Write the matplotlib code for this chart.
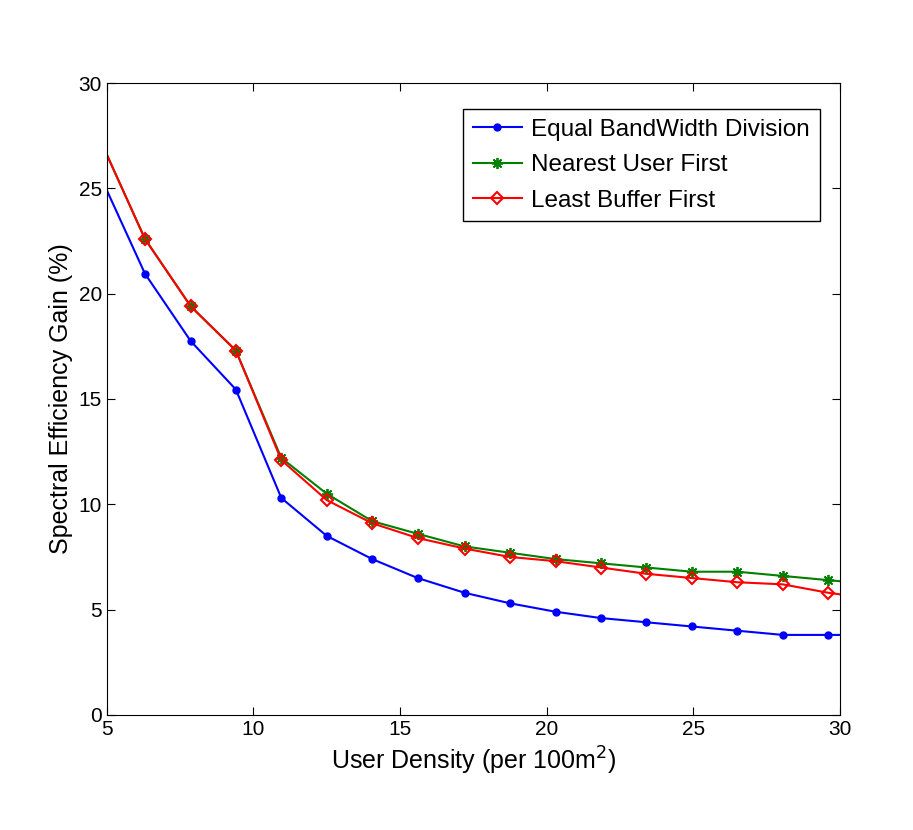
import matplotlib.pyplot as plt
import numpy as np

plt.rcParams['font.family'] = 'Liberation Sans'

# user density (first/last points lie just outside the axis limits)
x = [4.74, 6.3, 7.86, 9.4, 10.95, 12.5, 14.05, 15.6, 17.2, 18.75, 20.3,
     21.85, 23.4, 24.95, 26.5, 28.05, 29.6, 31.2]
equal_bw = [25.7, 20.95, 17.75, 15.45, 10.3, 8.5, 7.4, 6.5, 5.8, 5.3, 4.9,
            4.6, 4.4, 4.2, 4.0, 3.8, 3.8, 3.8]
nearest_user = [27.4, 22.6, 19.4, 17.3, 12.2, 10.5, 9.2, 8.6, 8.0, 7.7, 7.4,
                7.2, 7.0, 6.8, 6.8, 6.6, 6.4, 6.2]
least_buffer = [27.4, 22.6, 19.4, 17.3, 12.1, 10.2, 9.1, 8.4, 7.9, 7.5, 7.3,
                7.0, 6.7, 6.5, 6.3, 6.2, 5.8, 5.5]

fig = plt.figure(figsize=(9.13, 8.3), dpi=100)
ax = fig.add_axes([0.117, 0.1386, 0.803, 0.7614])

ax.plot(x, equal_bw, color='#0000ff', marker='o', markersize=5, lw=1.5,
        label='Equal BandWidth Division')
ax.plot(x, nearest_user, color='#008000', marker=(8, 2, 0), markersize=8, lw=1.5,
        markeredgewidth=1.3, label='Nearest User First')
ax.plot(x, least_buffer, color='#ff0000', marker='D', markersize=6, lw=1.5,
        markerfacecolor='none', markeredgewidth=1.5, label='Least Buffer First')

ax.set_xlim(5, 30)
ax.set_ylim(0, 30)
ax.set_xticks([5, 10, 15, 20, 25, 30])
ax.set_yticks([0, 5, 10, 15, 20, 25, 30])
ax.tick_params(direction='in', top=True, right=True, labelsize=15, length=6)
ax.set_xlabel('User Density (per 100m$^2$)', fontsize=18)
ax.set_ylabel('Spectral Efficiency Gain (%)', fontsize=18)

leg = ax.legend(loc='upper right', bbox_to_anchor=(0.9825, 0.97), fontsize=17.5,
                fancybox=False, edgecolor='black', framealpha=1,
                handlelength=2.0, handletextpad=0.4, labelspacing=0.55,
                borderaxespad=0.3)
leg.get_frame().set_linewidth(1)

fig.savefig('out.png', dpi=100)
